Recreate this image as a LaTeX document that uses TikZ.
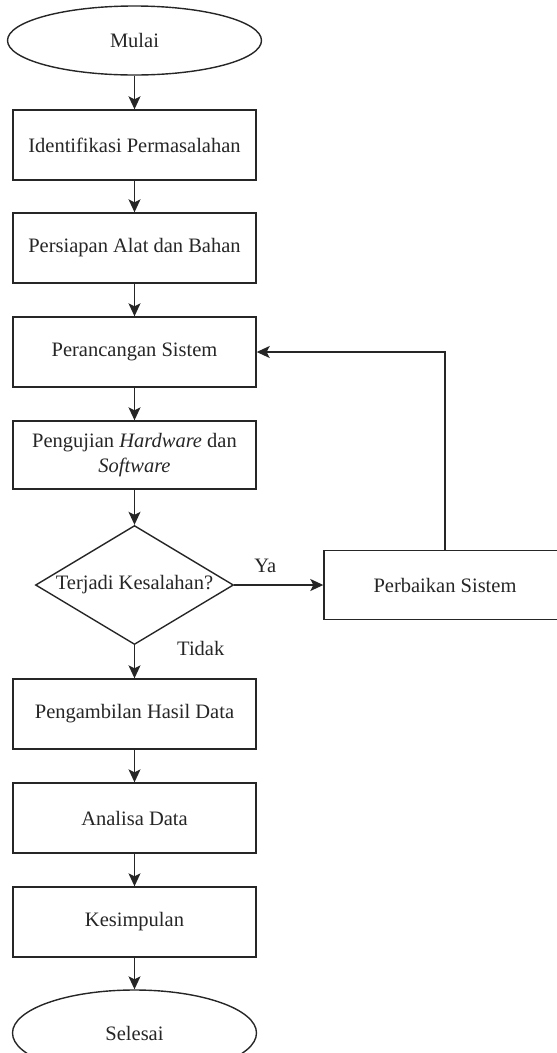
\documentclass[tikz,border=0pt]{standalone}
\usepackage{fontspec}
\setmainfont{Liberation Serif}
\newfontfamily\tnr{Liberation Serif}
\usetikzlibrary{shapes.geometric,arrows.meta}
\tikzset{
  base/.style={draw=black!85, line width=1.4pt, inner sep=0pt, font=\tnr\fontsize{20.5}{25}\selectfont, align=center, text=black!85},
  proc/.style={base, rectangle, minimum width=243pt, minimum height=70pt},
  term/.style={base, ellipse},
  decision/.style={base, diamond, shape aspect=1.66, minimum width=198pt, minimum height=119pt},
  arr/.style={draw=black!85, line width=1.4pt, -{Stealth[length=13pt,width=12pt,inset=3pt]}},
  lbl/.style={font=\tnr\fontsize{20.5}{25}\selectfont, inner sep=0pt, text=black!85}
}
\begin{document}
\begin{tikzpicture}[x=1pt,y=-1pt]
\useasboundingbox (0,0) rectangle (557,1053);
\clip (0,0) rectangle (557,1053);
\node[term, minimum width=254pt, minimum height=69pt] (start) at (134.5,40.5) {Mulai};
\node[proc] (b1) at (134.5,145) {Identifikasi Permasalahan};
\node[proc] (b2) at (134.5,248) {Persiapan Alat dan Bahan};
\node[proc] (b3) at (134.5,352) {Perancangan Sistem};
\node[proc, minimum height=68pt] (b4) at (134.5,455) {Pengujian \textit{Hardware} dan\\\textit{Software}};
\node[decision] (dec) at (134.5,585) {Terjadi Kesalahan?};
\node[proc, minimum width=242pt, minimum height=69pt] (fix) at (445,585) {Perbaikan Sistem};
\node[proc] (b5) at (134.5,714) {Pengambilan Hasil Data};
\node[proc] (b6) at (134.5,818) {Analisa Data};
\node[proc] (b7) at (134.5,922) {Kesimpulan};
\node[term, minimum width=244pt, minimum height=86pt] (end) at (134.5,1033) {Selesai};

\draw[arr] (start.south) -- (b1.north);
\draw[arr] (b1.south) -- (b2.north);
\draw[arr] (b2.south) -- (b3.north);
\draw[arr] (b3.south) -- (b4.north);
\draw[arr] (b4.south) -- (dec.north);
\draw[arr] (dec.east) -- node[lbl, pos=0.35, above=12pt] (ya) {Ya} (fix.west);
\draw[arr] (dec.south) -- node[lbl, right=42pt, pos=0.1] (tidak) {Tidak} (b5.north);
\draw[arr] (fix.north) |- (b3.east);
\draw[arr] (b5.south) -- (b6.north);
\draw[arr] (b6.south) -- (b7.north);
\draw[arr] (b7.south) -- (end.north);
\end{tikzpicture}
\end{document}
